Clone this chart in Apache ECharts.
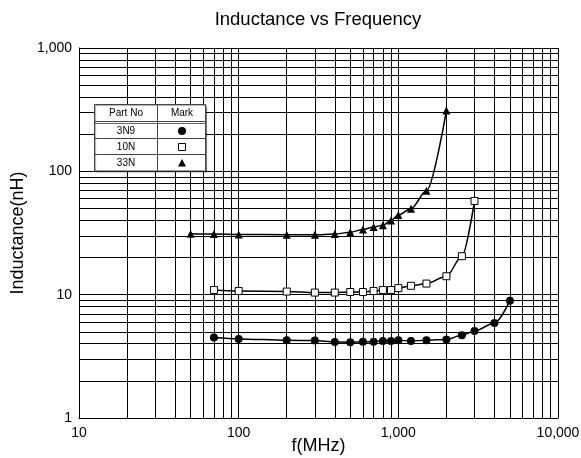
<!DOCTYPE html>
<html><head><meta charset="utf-8">
<script src="https://cdn.jsdelivr.net/npm/echarts@6/dist/echarts.min.js"></script>
<style>html,body{margin:0;padding:0;background:#fff}#c{width:581px;height:458px}</style>
</head><body><div id="c"></div>
<script>
// Data
const freq3N9 = [70,100,200,300,400,500,600,700,800,900,1000,1200,1500,2000,2500,3000,4000,5000];
const ind3N9  = [4.49,4.38,4.27,4.24,4.14,4.11,4.16,4.16,4.21,4.21,4.27,4.21,4.27,4.34,4.68,5.07,5.9,8.94];
const freq10N = [70,100,200,300,400,500,600,700,800,900,1000,1200,1500,2000,2500,3000];
const ind10N  = [10.9,10.7,10.6,10.4,10.4,10.5,10.5,10.7,10.9,10.9,11.3,11.8,12.3,14.1,20.5,57.5];
const freq33N = [50,70,100,200,300,400,500,600,700,800,900,1000,1200,1500,2000];
const ind33N  = [31.2,31,30.8,30.6,30.6,31,32.1,33.7,35.4,36.5,40,44.3,49.8,69.5,311];
const partNames = ['3N9','10N','33N'];
const xDecades = [10,100,1000];
const yDecades = [1,10,100];
const minorSteps = [2,3,4,5,6,7,8,9];

const FONT = 'Liberation Sans, Arial, sans-serif';
const fmt = v => Number(v).toLocaleString('en-US');

const xMinor = [];
xDecades.forEach(d => minorSteps.forEach(k => xMinor.push(d*k)));
const yMinor = [];
yDecades.forEach(d => minorSteps.forEach(k => yMinor.push(d*k)));

const pair = (xs, ys) => xs.map((x,i) => [x, ys[i]]);

const chart = echarts.init(document.getElementById('c'), null, {renderer:'canvas'});

// legend table (annotation)
const TX = 94.5, TY = 104.5, TW = 111, TH = 66.5, COL = 157.5;
const lineStyle = {stroke:'#444', lineWidth:1};
const g = [];
g.push({type:'rect', z:100, shape:{x:TX, y:TY, width:TW, height:TH},
  style:{fill:'#fff', stroke:'#444', lineWidth:1, shadowColor:'rgba(0,0,0,0.35)', shadowOffsetX:1, shadowOffsetY:1, shadowBlur:1}});
g.push({type:'line', z:101, shape:{x1:TX, y1:121.5, x2:TX+TW, y2:121.5}, style:lineStyle});
g.push({type:'line', z:101, shape:{x1:TX, y1:123.5, x2:TX+TW, y2:123.5}, style:{stroke:'#666', lineWidth:1}});
g.push({type:'line', z:101, shape:{x1:TX, y1:138.5, x2:TX+TW, y2:138.5}, style:lineStyle});
g.push({type:'line', z:101, shape:{x1:TX, y1:154.5, x2:TX+TW, y2:154.5}, style:lineStyle});
g.push({type:'line', z:101, shape:{x1:COL, y1:TY, x2:COL, y2:TY+TH}, style:lineStyle});
const tstyle = (t,x,y) => ({type:'text', z:102, x:x, y:y, style:{text:t, font:'10px '+FONT, fill:'#000', textAlign:'center', textVerticalAlign:'middle'}});
g.push(tstyle('Part No', 126, 113));
g.push(tstyle('Mark', 182, 113));
const rowC = [131, 147, 163];
partNames.forEach((p,i) => g.push(tstyle(p, 126, rowC[i])));
g.push({type:'circle', z:102, shape:{cx:182, cy:rowC[0], r:4}, style:{fill:'#000'}});
g.push({type:'rect', z:102, shape:{x:178.5, y:rowC[1]-3.5, width:7, height:7}, style:{fill:'#fff', stroke:'#000', lineWidth:1}});
g.push({type:'polygon', z:102, shape:{points:[[182,rowC[2]-4],[186,rowC[2]+3.5],[178,rowC[2]+3.5]]}, style:{fill:'#000'}});

const option = {
  animation:false,
  backgroundColor:'#fff',
  title:{text:'Inductance vs Frequency', left:313, textAlign:'center', top:5,
    textStyle:{fontFamily:FONT, fontSize:18.5, fontWeight:'normal', color:'#000'}},
  grid:{left:79, right:23, top:48, bottom:40, containLabel:false, outerBoundsMode:'none'},
  xAxis:{type:'log', logBase:10, min:10, max:10000,
    name:'f(MHz)', nameLocation:'middle', nameGap:19, nameMoveOverlap:false,
    nameTextStyle:{fontFamily:FONT, fontSize:18, color:'#000'},
    axisLine:{show:true, lineStyle:{color:'#000', width:1}},
    axisTick:{show:false},
    axisLabel:{formatter:fmt, fontFamily:FONT, fontSize:14, color:'#000', margin:8},
    splitLine:{show:true, lineStyle:{color:'#000', width:1}},
    minorTick:{show:false}, minorSplitLine:{show:false}},
  yAxis:{type:'log', logBase:10, min:1, max:1000,
    name:'Inductance(nH)', nameLocation:'middle', nameGap:52, nameMoveOverlap:false,
    nameTextStyle:{fontFamily:FONT, fontSize:18, color:'#000'},
    axisLine:{show:true, lineStyle:{color:'#000', width:1}},
    axisTick:{show:false},
    axisLabel:{formatter:fmt, fontFamily:FONT, fontSize:14, color:'#000', margin:7},
    splitLine:{show:true, lineStyle:{color:'#000', width:1}},
    minorTick:{show:false}, minorSplitLine:{show:false}},
  graphic: g,
  series:[
    {type:'line', name:'grid', data:[], silent:true, z:1,
      markLine:{silent:true, animation:false, symbol:['none','none'], label:{show:false},
        lineStyle:{color:'#000', width:1, type:'solid'}, emphasis:{disabled:true},
        data:[...xMinor.map(v=>({xAxis:v})), ...yMinor.map(v=>({yAxis:v}))]}},
    {type:'line', name:partNames[0], data:pair(freq3N9, ind3N9), z:5,
      smooth:0.3, smoothMonotone:'x', symbol:'circle', symbolSize:8,
      lineStyle:{color:'#000', width:1.5}, itemStyle:{color:'#000'}},
    {type:'line', name:partNames[1], data:pair(freq10N, ind10N), z:5,
      smooth:0.3, smoothMonotone:'x', symbol:'rect', symbolSize:7,
      lineStyle:{color:'#000', width:1.5}, itemStyle:{color:'#fff', borderColor:'#000', borderWidth:1}},
    {type:'line', name:partNames[2], data:pair(freq33N, ind33N), z:5,
      smooth:0.3, smoothMonotone:'x', symbol:'triangle', symbolSize:[8,8],
      lineStyle:{color:'#000', width:1.5}, itemStyle:{color:'#000'}}
  ]
};
chart.setOption(option);
</script>
</body></html>
